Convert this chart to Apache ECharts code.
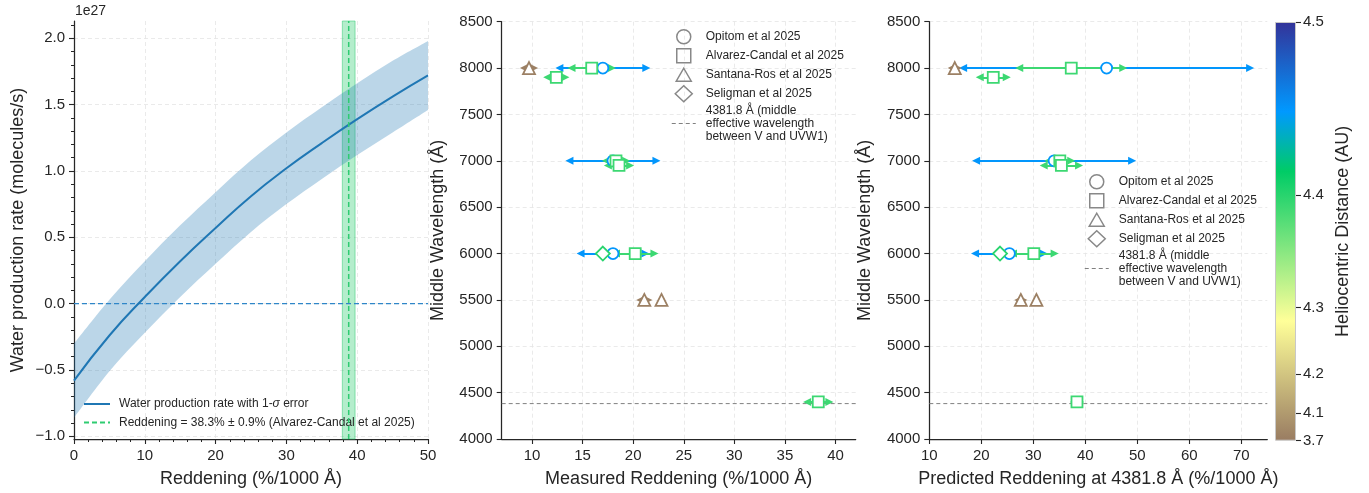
<!DOCTYPE html>
<html><head><meta charset="utf-8">
<script src="https://cdn.jsdelivr.net/npm/echarts@6/dist/echarts.min.js"></script>
<style>html,body{margin:0;padding:0;background:#fff}#c{width:1369px;height:493px}</style>
</head><body><div id="c"></div>
<script>
// ---------- Left panel data ----------
const reddeningX  = [0, 5, 10, 15, 20, 25, 30, 35, 40, 45, 50];
const waterRate   = [-0.58, -0.24, 0.05, 0.32, 0.57, 0.81, 1.02, 1.21, 1.39, 1.56, 1.72];
const waterUpper  = [-0.30, 0.03, 0.32, 0.59, 0.84, 1.08, 1.29, 1.48, 1.66, 1.83, 1.98];
const waterLower  = [-0.86, -0.51, -0.22, 0.05, 0.30, 0.54, 0.75, 0.94, 1.12, 1.29, 1.46];
const reddeningRef = 38.8;
const reddeningRefErr = 0.9;
const leftXTicks = [0, 10, 20, 30, 40, 50];
const leftYTicks = [-1.0, -0.5, 0.0, 0.5, 1.0, 1.5, 2.0];
const leftYRange = [-1.02, 2.13];

// ---------- Sources ----------
const sourceNames = ['Opitom et al 2025', 'Alvarez-Candal et al 2025', 'Santana-Ros et al 2025', 'Seligman et al 2025'];
const helioDistance = [4.45, 4.39, 3.75, 4.40];

const opitomWavelength    = [8000, 7000, 6000];
const opitomMeasured      = [17.0, 18.0, 18.0];
const opitomMeasuredErr   = [4.3, 4.3, 3.2];
const opitomPredicted     = [44.1, 34.0, 25.4];
const opitomPredictedErr  = [27.6, 15.0, 6.6];

const alvarezWavelength   = [8000, 7900, 7000, 6950, 6000, 4400];
const alvarezMeasured     = [15.9, 12.4, 18.3, 18.6, 20.2, 38.3];
const alvarezMeasuredErr  = [2.0, 0.9, 1.0, 1.1, 1.9, 1.1];
const alvarezPredicted    = [37.3, 22.3, 35.1, 35.4, 30.1, 38.4];
const alvarezPredictedErr = [10.0, 2.6, 2.2, 3.4, 4.0, 0.6];

const santanaWavelength   = [8000, 5500, 5500];
const santanaMeasured     = [9.7, 21.1, 22.8];
const santanaMeasuredErr  = [0.5, 0.4, 0];
const santanaPredicted    = [14.9, 27.6, 30.6];
const santanaPredictedErr = [0.6, 0.5, 0];

const seligmanWavelength   = [6000];
const seligmanMeasured     = [17.0];
const seligmanMeasuredErr  = [0];
const seligmanPredicted    = [23.6];
const seligmanPredictedErr = [0];

const refWavelength = 4381.8;
const refName = '4381.8 Å (middle\neffective wavelength\nbetween V and UVW1)';

const wavelengthTicks = [4000, 4500, 5000, 5500, 6000, 6500, 7000, 7500, 8000, 8500];
const measuredTicks = [10, 15, 20, 25, 30, 35, 40];
const measuredRange = [7, 42];
const predictedTicks = [10, 20, 30, 40, 50, 60, 70];
const predictedRange = [10, 75];

// colorbar (non-linear norm): tick values and their normalised positions
const cbarTickValues = [3.7, 4.1, 4.2, 4.3, 4.4, 4.5];
const cbarTickPos    = [0, 0.0654, 0.1586, 0.3177, 0.586, 1];

// ---------- styling ----------
const FONT = '"Liberation Sans", Arial, sans-serif';
const TXT = '#262626';
const cmapStops = [[0, '#333399'], [0.214, '#0099ff'], [0.357, '#00cc66'], [0.714, '#ffff99'], [1, '#997c62']]; // from top
const symbolOf = ['circle', 'rect', 'triangle', 'diamond'];
const symbolSizeOf = [11, 11, 12, 14];
// legend icons (24x16 box, shapes keep their own proportions)
const legendIconOf = [
  'path://M0,0M24,16M5,8A7,7,0,1,0,19,8A7,7,0,1,0,5,8Z',
  'path://M0,0M24,16M5,1L19,1L19,15L5,15Z',
  'path://M0,0M24,16M12,1.5L19.5,14.5L4.5,14.5Z',
  'path://M0,0M24,16M12,0L20.5,8L12,16L3.5,8Z'
];

function hex2rgb(h){ return [parseInt(h.slice(1,3),16), parseInt(h.slice(3,5),16), parseInt(h.slice(5,7),16)]; }
function normPos(d){
  if (d <= cbarTickValues[0]) return 0;
  for (let i = 1; i < cbarTickValues.length; i++) {
    if (d <= cbarTickValues[i]) {
      const f = (d - cbarTickValues[i-1]) / (cbarTickValues[i] - cbarTickValues[i-1]);
      return cbarTickPos[i-1] + f * (cbarTickPos[i] - cbarTickPos[i-1]);
    }
  }
  return 1;
}
function cmap(d){
  const t = 1 - normPos(d);
  for (let i = 1; i < cmapStops.length; i++) {
    if (t <= cmapStops[i][0]) {
      const f = (t - cmapStops[i-1][0]) / (cmapStops[i][0] - cmapStops[i-1][0]);
      const a = hex2rgb(cmapStops[i-1][1]), b = hex2rgb(cmapStops[i][1]);
      return 'rgb(' + a.map((v, k) => Math.round(v + f * (b[k] - v))).join(',') + ')';
    }
  }
  return cmapStops[cmapStops.length-1][1];
}

const gridLine = {show: true, lineStyle: {color: '#e4e4e4', type: [4, 3], width: 0.8}};
function axisBase(extra){
  return Object.assign({
    type: 'value',
    axisLine: {show: true, onZero: false, lineStyle: {color: TXT, width: 1.25}},
    axisTick: {show: true, length: 5, lineStyle: {color: TXT, width: 1.1}},
    axisLabel: {color: TXT, fontSize: 15, fontFamily: FONT, margin: 9, formatter: v => String(v)},
    splitLine: gridLine,
    nameLocation: 'middle',
    nameTextStyle: {color: TXT, fontSize: 18, fontFamily: FONT}
  }, extra);
}

const grids = [
  {left: 74, top: 21, width: 354, height: 418.3},
  {left: 501.7, top: 21.7, width: 354, height: 418.3},
  {left: 929.3, top: 21.7, width: 338, height: 418.3},
  {left: 1275, top: 22, width: 21, height: 418.7}
];

const leftYMinor = [];
for (let v = -10; v <= 21; v++) leftYMinor.push(v / 10);

const xAxes = [
  axisBase({gridIndex: 0, min: 0, max: 50, interval: 10, name: 'Reddening (%/1000 Å)', nameGap: 31,
    minorTick: {show: true, splitNumber: 5, length: 3, lineStyle: {color: TXT, width: 1}}}),
  axisBase({gridIndex: 1, min: measuredRange[0], max: measuredRange[1], name: 'Measured Reddening (%/1000 Å)', nameGap: 31,
    axisTick: {show: true, length: 5, customValues: measuredTicks, lineStyle: {color: TXT, width: 1.1}},
    axisLabel: {customValues: measuredTicks, color: TXT, fontSize: 15, fontFamily: FONT, margin: 9, formatter: v => String(v)}}),
  axisBase({gridIndex: 2, min: predictedRange[0], max: predictedRange[1], name: 'Predicted Reddening at 4381.8 Å (%/1000 Å)', nameGap: 31,
    axisTick: {show: true, length: 5, customValues: predictedTicks, lineStyle: {color: TXT, width: 1.1}},
    axisLabel: {customValues: predictedTicks, color: TXT, fontSize: 15, fontFamily: FONT, margin: 9, formatter: v => String(v)}}),
  {gridIndex: 3, type: 'category', data: ['c'], show: false}
];

const fmtLeft = v => v.toFixed(1).replace('-', '\u2212');
const yAxes = [
  axisBase({gridIndex: 0, min: leftYRange[0], max: leftYRange[1], name: 'Water production rate (molecules/s)', nameGap: 47,
    axisTick: {show: true, length: 5, customValues: leftYTicks, lineStyle: {color: TXT, width: 1.1}},
    axisLabel: {customValues: leftYTicks, formatter: fmtLeft, color: TXT, fontSize: 15, fontFamily: FONT, margin: 9}}),
  {type: 'value', gridIndex: 0, min: leftYRange[0], max: leftYRange[1], position: 'left', offset: 0,
    axisLine: {show: false}, axisLabel: {show: false}, splitLine: {show: false},
    axisTick: {show: true, length: 3, customValues: leftYMinor, lineStyle: {color: TXT, width: 1}}},
  axisBase({gridIndex: 1, min: 4000, max: 8500, interval: 500, name: 'Middle Wavelength (Å)', nameGap: 55}),
  axisBase({gridIndex: 2, min: 4000, max: 8500, interval: 500, name: 'Middle Wavelength (Å)', nameGap: 55}),
  {type: 'value', gridIndex: 3, min: 0, max: 1, position: 'right',
    axisLine: {show: false}, splitLine: {show: false},
    axisTick: {show: true, length: 5, customValues: cbarTickPos, lineStyle: {color: TXT, width: 1.1}},
    axisLabel: {show: true, customValues: cbarTickPos, color: TXT, fontSize: 15, fontFamily: FONT, margin: 7,
      formatter: v => { let best = 0; cbarTickPos.forEach((p, i) => { if (Math.abs(p - v) < Math.abs(cbarTickPos[best] - v)) best = i; }); return cbarTickValues[best].toFixed(1); }},
    name: 'Heliocentric Distance (AU)', nameLocation: 'middle', nameRotate: 90, nameGap: 38,
    nameTextStyle: {color: TXT, fontSize: 18, fontFamily: FONT}}
];

// smooth path through pixel points (Catmull-Rom -> cubic bezier), for drawing only
function splinePath(pts, moveFirst){
  let d = (moveFirst ? 'M' : 'L') + pts[0][0] + ',' + pts[0][1];
  for (let i = 0; i < pts.length - 1; i++) {
    const p0 = pts[Math.max(i - 1, 0)], p1 = pts[i], p2 = pts[i + 1], p3 = pts[Math.min(i + 2, pts.length - 1)];
    const c1 = [p1[0] + (p2[0] - p0[0]) / 6, p1[1] + (p2[1] - p0[1]) / 6];
    const c2 = [p2[0] - (p3[0] - p1[0]) / 6, p2[1] - (p3[1] - p1[1]) / 6];
    d += 'C' + c1[0] + ',' + c1[1] + ' ' + c2[0] + ',' + c2[1] + ' ' + p2[0] + ',' + p2[1];
  }
  return d;
}

const series = [];
// ----- left panel -----
const waterName = 'Water production rate with 1-σ error';
const reddName = 'Reddening = 38.3% ± 0.9% (Alvarez-Candal et al 2025)';
series.push({type: 'custom', name: '_band', xAxisIndex: 0, yAxisIndex: 0, silent: true, z: 1,
  data: [[reddeningX[0], waterUpper[0]]],
  renderItem: (params, api) => {
    const up = reddeningX.map((x, i) => api.coord([x, waterUpper[i]]));
    const lo = reddeningX.map((x, i) => api.coord([x, waterLower[i]])).reverse();
    return {type: 'path', shape: {pathData: splinePath(up, true) + splinePath(lo, false) + 'Z'},
      style: {fill: 'rgba(31,119,180,0.3)', stroke: null}};
  }});
series.push({type: 'line', name: '_zero', xAxisIndex: 0, yAxisIndex: 0,
  data: [[0, 0], [50, 0]], symbol: 'none', lineStyle: {color: '#2f86c8', type: [5, 3], width: 1.2}, silent: true, z: 2});
series.push({type: 'line', name: waterName, xAxisIndex: 0, yAxisIndex: 0,
  data: reddeningX.map((x, i) => [x, waterRate[i]]), symbol: 'none', smooth: true,
  lineStyle: {color: '#1f77b4', width: 2}, itemStyle: {color: '#1f77b4'}, z: 3});
series.push({type: 'line', name: reddName, xAxisIndex: 0, yAxisIndex: 0,
  data: [[reddeningRef, leftYRange[0]], [reddeningRef, leftYRange[1]]], symbol: 'none',
  lineStyle: {color: '#2ecc71', type: [5, 3], width: 1.5}, itemStyle: {color: '#2ecc71'}, z: 4,
  markArea: {silent: true, data: [[{xAxis: reddeningRef - reddeningRefErr}, {xAxis: reddeningRef + reddeningRefErr}]],
    itemStyle: {color: 'rgba(46,204,113,0.36)', borderColor: 'rgba(46,204,113,0.5)', borderWidth: 1}}});

// ----- middle & right panels -----
const srcData = [
  [opitomWavelength, opitomMeasured, opitomMeasuredErr, opitomPredicted, opitomPredictedErr],
  [alvarezWavelength, alvarezMeasured, alvarezMeasuredErr, alvarezPredicted, alvarezPredictedErr],
  [santanaWavelength, santanaMeasured, santanaMeasuredErr, santanaPredicted, santanaPredictedErr],
  [seligmanWavelength, seligmanMeasured, seligmanMeasuredErr, seligmanPredicted, seligmanPredictedErr]
];
[1, 2].forEach(panel => {
  const yIdx = panel === 1 ? 2 : 3;
  series.push({type: 'line', name: refName, xAxisIndex: panel, yAxisIndex: yIdx,
    data: panel === 1 ? [[measuredRange[0], refWavelength], [measuredRange[1], refWavelength]]
                      : [[predictedRange[0], refWavelength], [predictedRange[1], refWavelength]],
    symbol: 'none', lineStyle: {color: '#808080', type: [4, 3], width: 1}, itemStyle: {color: '#808080'}, silent: true, z: 2});
  srcData.forEach((sd, s) => {
    const w = sd[0], val = panel === 1 ? sd[1] : sd[3], err = panel === 1 ? sd[2] : sd[4];
    const col = cmap(helioDistance[s]);
    const lines = [];
    w.forEach((wl, i) => { if (err[i] > 0) lines.push({coords: [[val[i] - err[i], wl], [val[i] + err[i], wl]]}); });
    if (lines.length) series.push({type: 'lines', coordinateSystem: 'cartesian2d', xAxisIndex: panel, yAxisIndex: yIdx,
      data: lines, symbol: ['triangle', 'triangle'], symbolSize: 8, silent: true,
      lineStyle: {color: col, width: 2, opacity: 1}, z: 3});
    series.push({type: 'scatter', name: sourceNames[s], xAxisIndex: panel, yAxisIndex: yIdx,
      data: w.map((wl, i) => [val[i], wl]), symbol: symbolOf[s], symbolSize: symbolSizeOf[s], symbolKeepAspect: true,
      itemStyle: {color: '#ffffff', borderColor: col, borderWidth: 1.8, opacity: 1}, z: 4, silent: true});
  });
});

// ----- colorbar -----
series.push({type: 'bar', xAxisIndex: 3, yAxisIndex: 4, data: [1], barWidth: '100%', silent: true,
  itemStyle: {color: new echarts.graphic.LinearGradient(0, 0, 0, 1, cmapStops.map(s => ({offset: s[0], color: s[1]}))),
    borderColor: '#c8c8c8', borderWidth: 1}});

const legendMarkerData = sourceNames.map((n, s) => ({name: n, icon: legendIconOf[s],
  itemStyle: {color: 'rgba(255,255,255,0)', borderColor: '#888888', borderWidth: 1.5}}));
const legendRef = {name: refName, itemStyle: {color: 'rgba(0,0,0,0)', borderColor: 'rgba(0,0,0,0)', borderWidth: 0},
  lineStyle: {color: '#808080', type: [4, 3], width: 1}};
const legendText = {color: TXT, fontSize: 12, fontFamily: FONT, lineHeight: 13, padding: [0, 0, 0, 5]};

const option = {
  animation: false,
  backgroundColor: '#ffffff',
  textStyle: {fontFamily: FONT},
  grid: grids,
  xAxis: xAxes,
  yAxis: yAxes,
  legend: [
    {left: 78, top: 393, orient: 'vertical', itemWidth: 26, itemHeight: 12, itemGap: 6.5, selectedMode: false,
      data: [
        {name: waterName, itemStyle: {color: 'rgba(0,0,0,0)', borderWidth: 0}},
        {name: reddName, itemStyle: {color: 'rgba(0,0,0,0)', borderWidth: 0}}],
      formatter: n => n.replace('σ', '{i|σ}'),
      textStyle: {color: TXT, fontSize: 12, fontFamily: FONT, padding: [0, 0, 0, 4], rich: {i: {fontStyle: 'italic', fontSize: 12, fontFamily: FONT, color: TXT}}}},
    {left: 666, top: 23, orient: 'vertical', itemWidth: 24, itemHeight: 16, itemGap: 1.5, selectedMode: false,
      data: legendMarkerData.concat([legendRef]), textStyle: legendText},
    {left: 1079, top: 168, orient: 'vertical', itemWidth: 24, itemHeight: 16, itemGap: 1.5, selectedMode: false,
      data: legendMarkerData.concat([legendRef]), textStyle: legendText}
  ],
  graphic: [{type: 'text', left: 75, top: 4, style: {text: '1e27', fontSize: 14, fontFamily: FONT, fill: TXT}}],
  series: series
};
const chart = echarts.init(document.getElementById('c'), null, {renderer: 'canvas'});
chart.setOption(option);
</script></body></html>
